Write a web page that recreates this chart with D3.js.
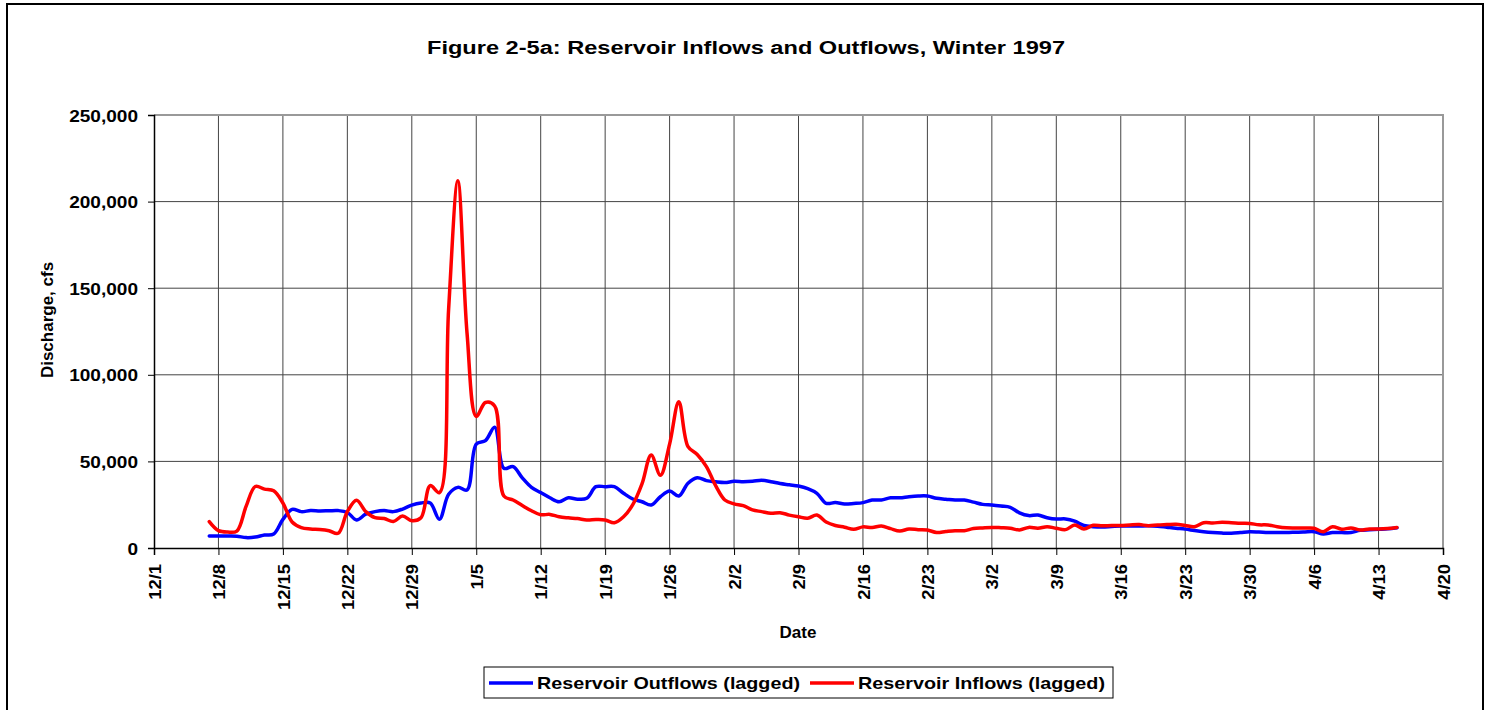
<!DOCTYPE html>
<html>
<head>
<meta charset="utf-8">
<script src="https://cdn.jsdelivr.net/npm/d3@7"></script>
<style>
  html, body { margin: 0; padding: 0; background: #fff; }
  svg { display: block; font-family: Arial, "Liberation Sans", sans-serif; font-weight: bold; }
</style>
</head>
<body>
<svg id="chart" width="1492" height="710"></svg>
<script>
// ---------- data ----------
const titleText = "Figure 2-5a: Reservoir Inflows and Outflows, Winter 1997";
const seriesNames = ["Reservoir Outflows (lagged)", "Reservoir Inflows (lagged)"];
const firstDay = "1996-12-07"; // daily values start here
const outflows = [
  6900, 6900, 6900, 6800, 6000, 6300, 7500, 8100, 16500, 22300,
  21000, 21600, 21400, 21500, 21600, 20500, 16200, 19500, 21000, 21600,
  21000, 22500, 24800, 26000, 26000, 16600, 31000, 35000, 33500, 60000,
  62000, 69700, 46000, 47000, 40500, 35000, 32000, 29000, 26700, 29000,
  28200, 28700, 35400, 35400, 35400, 31600, 28300, 26700, 24800, 29600,
  32900, 30000, 37400, 40600, 38900, 38200, 37800, 38500, 38300, 38500,
  39100, 38300, 37200, 36500, 35800, 34300, 31600, 25800, 26200, 25400,
  25700, 26200, 27700, 27700, 29000, 29000, 29600, 30000, 30000, 28700,
  28200, 27700, 27700, 26500, 25200, 24800, 24200, 23500, 20300, 18700,
  19000, 17500, 16700, 16800, 15500, 13000, 12300, 12100, 12400, 12700,
  12700, 12700, 12800, 12600, 12000, 11400, 10900, 10100, 9400, 8900,
  8600, 8500, 8900, 9400, 9200, 8900, 8900, 8900, 9100, 9300,
  9400, 8100, 8900, 8900, 8900, 10200, 10500, 10800, 11100, 11700
];
const inflows = [
  15200, 10000, 9200, 9800, 24000, 35500, 34000, 33000, 26000, 15000,
  11800, 11000, 10700, 10000, 8500, 21000, 27500, 21000, 17500, 17000,
  15300, 18500, 15800, 17500, 36000, 32000, 138000, 212000, 124000, 76000,
  84000, 82000, 30000, 27700, 24500, 21500, 19200, 19400, 18000, 17400,
  17000, 16200, 16400, 16200, 14600, 18000, 25000, 37000, 53700, 42000,
  60000, 84500, 58500, 54000, 47000, 36000, 27700, 25500, 24500, 22000,
  21000, 20000, 20400, 19000, 18000, 17200, 19000, 15000, 13000, 12000,
  10800, 12200, 11800, 12700, 11200, 9800, 11000, 10600, 10400, 8900,
  9500, 10000, 10000, 11200, 11600, 11900, 11700, 11400, 10400, 11900,
  11400, 12300, 11400, 10600, 13300, 11000, 13100, 12800, 13000, 13000,
  13300, 13500, 12900, 13300, 13500, 13700, 13000, 12300, 14600, 14500,
  14800, 14600, 14300, 14200, 13400, 13300, 12300, 11700, 11600, 11500,
  11400, 9400, 12300, 10800, 11600, 10400, 11000, 11000, 11300, 11900
];
const xTickLabels = ["12/1","12/8","12/15","12/22","12/29","1/5","1/12","1/19","1/26","2/2",
  "2/9","2/16","2/23","3/2","3/9","3/16","3/23","3/30","4/6","4/13","4/20"];
const yTickValues = [0, 50000, 100000, 150000, 200000, 250000];
const colors = ["#0000FF", "#FF0000"];

// ---------- layout ----------
const svg = d3.select("#chart");
const plot = { left: 154, top: 115, right: 1443, bottom: 548 };

const parseLabel = s => {
  const [m, d] = s.split("/").map(Number);
  return new Date(Date.UTC(m === 12 ? 1996 : 1997, m - 1, d));
};
const tickDates = xTickLabels.map(parseLabel);
const start = new Date(firstDay + "T00:00:00Z");
const dayAt = i => d3.utcDay.offset(start, i);

const x = d3.scaleUtc().domain([tickDates[0], tickDates[tickDates.length - 1]]).range([plot.left, plot.right]);
const y = d3.scaleLinear().domain([0, 250000]).range([plot.bottom, plot.top]);

function stretch(sel, factor) {
  sel.each(function () {
    const len = this.getComputedTextLength();
    d3.select(this).attr("textLength", len * factor).attr("lengthAdjust", "spacingAndGlyphs");
  });
}

// outer frame
svg.append("rect").attr("x", 7).attr("y", 4).attr("width", 1476).attr("height", 720)
  .attr("fill", "#fff").attr("stroke", "#000").attr("stroke-width", 2);

// title
svg.append("text").attr("x", 746).attr("y", 54).attr("text-anchor", "middle")
  .attr("font-size", 18).attr("textLength", 638).attr("lengthAdjust", "spacingAndGlyphs")
  .text(titleText);

// gridlines
const grid = svg.append("g");
grid.selectAll("line.v").data(tickDates.slice(1, -1)).join("line")
  .attr("x1", d => x(d)).attr("x2", d => x(d)).attr("y1", plot.top).attr("y2", plot.bottom)
  .attr("stroke", "#444").attr("stroke-width", 1);
grid.selectAll("line.h").data(yTickValues.slice(1, -1)).join("line")
  .attr("x1", plot.left).attr("x2", plot.right).attr("y1", d => y(d)).attr("y2", d => y(d))
  .attr("stroke", "#444").attr("stroke-width", 1);
// plot border (top & right gray)
svg.append("path")
  .attr("d", `M${plot.left},${plot.top}H${plot.right}V${plot.bottom}`)
  .attr("fill", "none").attr("stroke", "#999").attr("stroke-width", 2);

// axes
const yAxis = d3.axisLeft(y).tickValues(yTickValues).tickFormat(d3.format(",")).tickSize(6).tickPadding(10);
const gy = svg.append("g").attr("transform", `translate(${plot.left},0)`).call(yAxis);
gy.select(".domain").attr("stroke", "#000").attr("stroke-width", 1.5);
gy.selectAll(".tick line").attr("stroke", "#000");
gy.selectAll(".tick text").attr("font-size", 17).attr("font-family", null).attr("fill", "#000").attr("dy", "0.36em");
stretch(gy.selectAll(".tick text"), 1.12);

const xAxis = d3.axisBottom(x).tickValues(tickDates).tickFormat((d, i) => xTickLabels[i]).tickSize(7);
const gx = svg.append("g").attr("transform", `translate(0,${plot.bottom})`).call(xAxis);
gx.select(".domain").attr("stroke", "#000").attr("stroke-width", 1.5);
gx.selectAll(".tick line").attr("stroke", "#000");
gx.selectAll(".tick text").attr("font-size", 17).attr("font-family", null).attr("fill", "#000")
  .attr("text-anchor", "end").attr("transform", "rotate(-90)")
  .attr("x", -16).attr("y", 0).attr("dy", "0.36em");
stretch(gx.selectAll(".tick text"), 1.08);

// axis titles
svg.append("text").attr("transform", "translate(53,320) rotate(-90)").attr("text-anchor", "middle")
  .attr("font-size", 17).text("Discharge, cfs");
svg.append("text").attr("x", 798).attr("y", 638).attr("text-anchor", "middle")
  .attr("font-size", 17).text("Date");

// series
const line = d3.line().x((d, i) => x(dayAt(i))).y(d => y(d)).curve(d3.curveCatmullRom.alpha(0.5));
const lines = svg.append("g").attr("fill", "none").attr("stroke-width", 3.5)
  .attr("stroke-linejoin", "round").attr("stroke-linecap", "round");
lines.append("path").datum(outflows).attr("stroke", colors[0]).attr("d", line);
lines.append("path").datum(inflows).attr("stroke", colors[1]).attr("d", line);

// legend
const lg = svg.append("g");
lg.append("rect").attr("x", 484).attr("y", 667).attr("width", 629).attr("height", 31)
  .attr("fill", "#fff").attr("stroke", "#000").attr("stroke-width", 1);
const legendItems = [
  { name: seriesNames[0], color: colors[0], x0: 489, tx: 537, tl: 263 },
  { name: seriesNames[1], color: colors[1], x0: 810, tx: 858, tl: 247 }
];
legendItems.forEach(it => {
  lg.append("line").attr("x1", it.x0).attr("x2", it.x0 + 44).attr("y1", 683).attr("y2", 683)
    .attr("stroke", it.color).attr("stroke-width", 3.5);
  lg.append("text").attr("x", it.tx).attr("y", 689).attr("font-size", 17)
    .attr("textLength", it.tl).attr("lengthAdjust", "spacingAndGlyphs").text(it.name);
});
</script>
</body>
</html>
